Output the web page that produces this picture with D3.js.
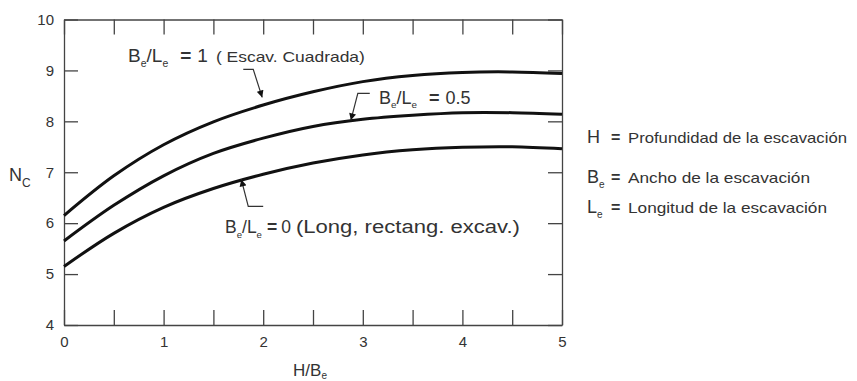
<!DOCTYPE html>
<html>
<head>
<meta charset="utf-8">
<script src="https://cdn.jsdelivr.net/npm/d3@7"></script>
<style>
  body { margin: 0; background: #fff; }
  svg text { font-family: "Liberation Sans", Arial, sans-serif; fill: #333; }
</style>
</head>
<body>
<svg id="chart"></svg>
<script>
// H/Be values where the curves were read
const hb = [0, 0.5, 1, 1.5, 2, 2.5, 3, 3.5, 4, 4.5, 5];
// Nc for Be/Le = 1 (square excavation)
const ncSquare = [6.15, 6.93, 7.54, 7.99, 8.32, 8.58, 8.78, 8.9, 8.96, 8.97, 8.94];
// Nc for Be/Le = 0.5
const ncHalf = [5.65, 6.35, 6.93, 7.37, 7.67, 7.9, 8.04, 8.12, 8.17, 8.17, 8.14];
// Nc for Be/Le = 0 (long rectangular)
const ncLong = [5.15, 5.8, 6.31, 6.68, 6.96, 7.18, 7.34, 7.44, 7.49, 7.5, 7.46];

const xTicks = [0, 0.5, 1, 1.5, 2, 2.5, 3, 3.5, 4, 4.5, 5];
const yTicks = [4, 5, 6, 7, 8, 9, 10];

const W = 857, H = 381;
const margin = { top: 19.5, right: 295, bottom: 56, left: 64 };
const width = W - margin.left - margin.right;
const height = H - margin.top - margin.bottom;

const svg = d3.select("#chart").attr("width", W).attr("height", H);
const g = svg.append("g").attr("transform", `translate(${margin.left},${margin.top})`);

const x = d3.scaleLinear().domain([0, 5]).range([0, width]);
const y = d3.scaleLinear().domain([4, 10]).range([height, 0]);

// axes: ticks drawn inward on all four sides
const styleAxis = (sel) => {
  sel.selectAll("path, line").attr("stroke", "#444").attr("stroke-width", 1.3);
  sel.selectAll("text").style("font-size", "15px").attr("fill", "#333");
};

g.append("g")
  .attr("transform", `translate(0,${height})`)
  .call(d3.axisBottom(x).tickValues(xTicks).tickSize(-15).tickSizeOuter(0).tickPadding(11)
    .tickFormat(d => Number.isInteger(d) ? d : ""))
  .call(styleAxis);

g.append("g")
  .call(d3.axisTop(x).tickValues(xTicks).tickSize(-15).tickSizeOuter(0).tickFormat(""))
  .call(styleAxis);

g.append("g")
  .call(d3.axisLeft(y).tickValues(yTicks).tickSize(-14).tickSizeOuter(0).tickPadding(10)
    .tickFormat(d3.format("d")))
  .call(styleAxis);

g.append("g")
  .attr("transform", `translate(${width},0)`)
  .call(d3.axisRight(y).tickValues(yTicks).tickSize(-14).tickSizeOuter(0).tickFormat(""))
  .call(styleAxis);

// curves
const line = d3.line().x((d, i) => x(hb[i])).y(d => y(d)).curve(d3.curveCatmullRom);
[ncSquare, ncHalf, ncLong].forEach(s => {
  g.append("path").datum(s)
    .attr("fill", "none")
    .attr("stroke", "#111")
    .attr("stroke-width", 3)
    .attr("d", line);
});

// sequential text pieces: {t, size, sub, bold, gap, len}
function richText(parent, x0, y0, parts, drop = 0.45) {
  let cx = x0;
  parts.forEach(p => {
    cx += p.gap || 0;
    const t = parent.append("text")
      .attr("x", cx)
      .attr("y", y0 + (p.sub ? p.size * drop : 0))
      .style("font-size", p.size + "px")
      .style("font-weight", p.bold ? "bold" : "normal")
      .text(p.t);
    if (p.len) t.attr("textLength", p.len).attr("lengthAdjust", "spacingAndGlyphs");
    cx += p.len || t.node().getComputedTextLength();
  });
}

const ratio = (size) => [
  { t: "B", size: size },
  { t: "e", size: size * 0.55, sub: true },
  { t: "/", size: size },
  { t: "L", size: size },
  { t: "e", size: size * 0.55, sub: true }
];

// curve labels (anchored in data units)
richText(g, x(0.643), y(9.16), ratio(19).concat([
  { t: "=", size: 19, bold: true, gap: 12 },
  { t: "1", size: 19, gap: 6 },
  { t: "( Escav. Cuadrada)", size: 14.5, gap: 8, len: 149 }
]));
richText(g, x(3.163), y(8.35), ratio(18).concat([
  { t: "=", size: 18, bold: true, gap: 12 },
  { t: "0.5", size: 18, gap: 6 }
]));
richText(g, x(1.616), y(5.80), ratio(17.5).concat([
  { t: "=", size: 17.5, bold: true, gap: 5 },
  { t: "0", size: 17.5, gap: 4 },
  { t: "(Long, rectang. excav.)", size: 17.5, gap: 5, len: 224 }
]));

// leader arrows: [corner start, bend, tip] in data units
const leaders = [
  [[1.80, 9.02], [1.90, 9.02], [1.99, 8.47]],
  [[3.07, 8.55], [2.95, 8.55], [2.88, 8.02]],
  [[2.00, 6.33], [1.85, 6.33], [1.78, 6.86]]
];
svg.append("defs").append("marker")
  .attr("id", "arr").attr("viewBox", "0 0 10 10")
  .attr("refX", 10).attr("refY", 5)
  .attr("markerWidth", 9).attr("markerHeight", 7)
  .attr("markerUnits", "userSpaceOnUse")
  .attr("orient", "auto")
  .append("path").attr("d", "M0,0 L10,5 L0,10 Z").attr("fill", "#111");
leaders.forEach(pts => {
  g.append("path")
    .attr("d", d3.line().x(d => x(d[0])).y(d => y(d[1]))(pts))
    .attr("fill", "none")
    .attr("stroke", "#333")
    .attr("stroke-width", 1.2)
    .attr("marker-end", "url(#arr)");
});

// axis titles
richText(g, -55, y(7) + 9, [
  { t: "N", size: 18 },
  { t: "C", size: 12, sub: true }
]);
richText(g, x(2.3), height + 50.5, [
  { t: "H/B", size: 17 },
  { t: "e", size: 10, sub: true }
], 0.3);

// definitions on the right
const legendRows = [
  { sym: "H", sub: "", desc: "Profundidad de la escavación", base: 143, len: 219 },
  { sym: "B", sub: "e", desc: "Ancho de la escavación", base: 183, len: 182 },
  { sym: "L", sub: "e", desc: "Longitud de la escavación", base: 213, len: 199 }
];
legendRows.forEach(r => {
  const lg = svg.append("g");
  richText(lg, 587, r.base, [
    { t: r.sym, size: 18 },
    { t: r.sub, size: 10, sub: true }
  ]);
  lg.append("text").attr("x", 611).attr("y", r.base)
    .style("font-size", "16px").style("font-weight", "bold").text("=");
  lg.append("text").attr("x", 628).attr("y", r.base)
    .style("font-size", "15px").attr("fill", "#222")
    .attr("textLength", r.len).attr("lengthAdjust", "spacingAndGlyphs")
    .text(r.desc);
});
</script>
</body>
</html>
